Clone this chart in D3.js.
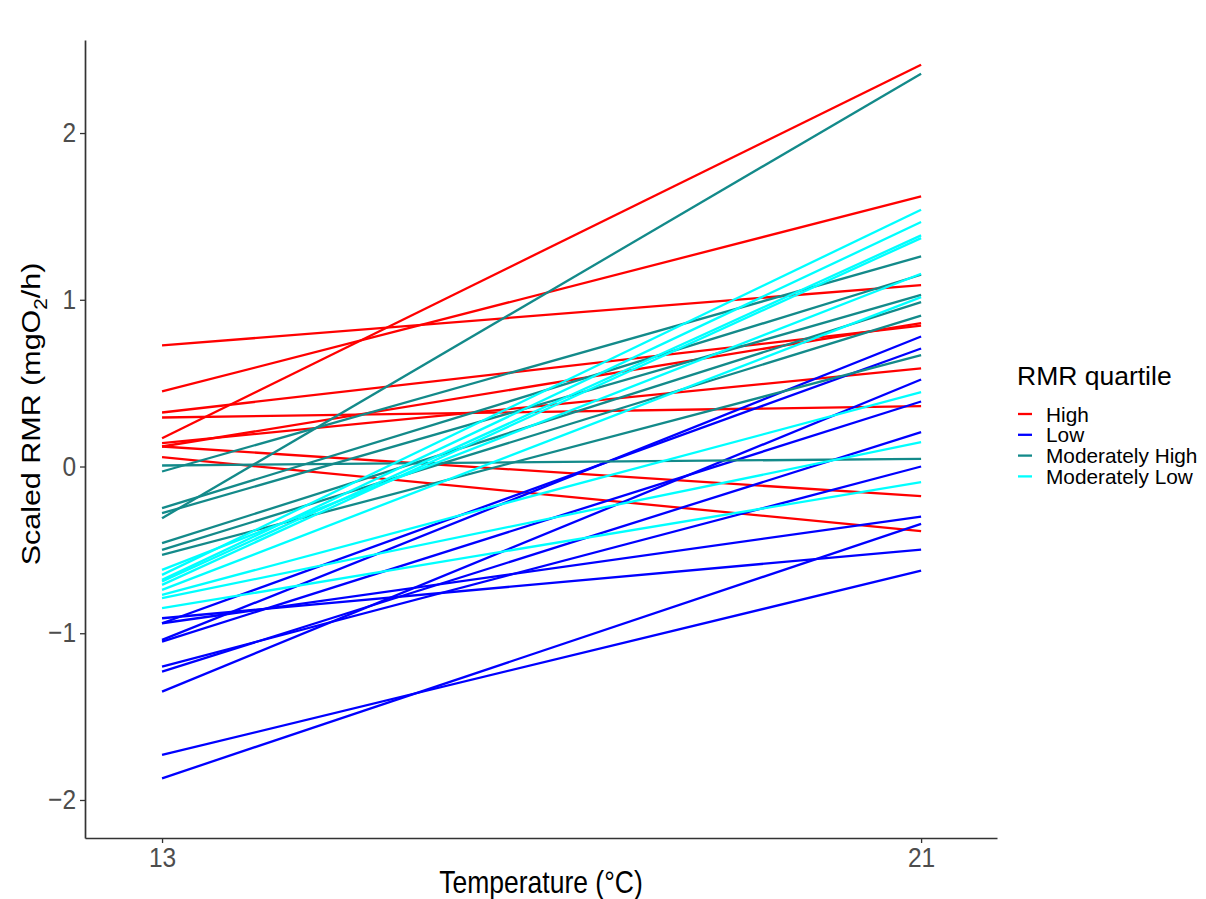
<!doctype html>
<head>
  <style>
    html, body {
      margin: 0;
      padding: 0;
      background: white;
    }
    svg text {
      font-family: "Liberation Sans", Arial, sans-serif;
    }
  </style>
  <script src="https://d3js.org/d3.v7.min.js"></script>
</head>
<body>
  <div id='chart'></div>
  <script>
    // temperatures of the two measurements
    var temps = [13, 21];

    // scaled RMR at 13 and 21 C, one entry per fish, by quartile group
    var highStart = [0.726, 0.45, 0.324, 0.294, 0.17, 0.14, 0.12, 0.12, 0.056];
    var highEnd   = [1.088, 1.62, 0.845, 0.362, 2.41, 0.588, 0.86, -0.178, -0.388];

    var lowStart = [-0.91, -0.94, -0.94, -1.04, -1.05, -1.2, -1.23, -1.35, -1.73, -1.87];
    var lowEnd   = [-0.498, -0.3, 0.708, 0.78, 0.39, 0.0, 0.206, 0.522, -0.624, -0.344];

    var modHighStart = [0.006, -0.03, -0.25, -0.28, -0.31, -0.46, -0.5, -0.53];
    var modHighEnd   = [0.046, 1.26, 1.15, 1.03, 2.356, 0.986, 0.905, 0.668];

    var modLowStart = [-0.62, -0.65, -0.68, -0.69, -0.71, -0.74, -0.77, -0.79, -0.85];
    var modLowEnd   = [1.156, 1.54, 1.466, 1.386, 1.37, 1.016, 0.446, 0.146, -0.094];

    var groups = ['High', 'Low', 'Moderately High', 'Moderately Low'];
    var colors = ['#ff0000', '#0000ff', '#138a8a', '#00ffff'];

    var yTicks = [-2, -1, 0, 1, 2];
    var xTicks = [13, 21];

    var width = 1206, height = 899;

    var lines = [];
    [[highStart, highEnd], [lowStart, lowEnd],
     [modHighStart, modHighEnd], [modLowStart, modLowEnd]].forEach(function(g, i) {
      g[0].forEach(function(v, j) {
        lines.push({group: groups[i], values: [v, g[1][j]]});
      });
    });

    var x = d3.scaleLinear().domain([12.188, 21.80]).range([85, 997]);
    var y = d3.scaleLinear().domain([-2.228, 2.558]).range([838, 40]);
    var color = d3.scaleOrdinal().domain(groups).range(colors);

    var svg = d3.select('#chart').append('svg')
        .attr('width', width)
        .attr('height', height);

    var line = d3.line()
        .x(function(d, i) { return x(temps[i]); })
        .y(function(d) { return y(d); });

    svg.append('g')
      .selectAll('path')
      .data(lines)
      .enter().append('path')
        .attr('d', function(d) { return line(d.values); })
        .attr('fill', 'none')
        .attr('stroke', function(d) { return color(d.group); })
        .attr('stroke-width', 2.3);

    var xAxis = svg.append('g')
        .attr('transform', 'translate(0,838)')
        .call(d3.axisBottom(x).tickValues(xTicks).tickSize(5).tickSizeOuter(0).tickPadding(5));
    var yAxis = svg.append('g')
        .attr('transform', 'translate(85,0)')
        .call(d3.axisLeft(y).tickValues(yTicks).tickSize(5).tickSizeOuter(0).tickPadding(4)
          .tickFormat(function(d) { return d < 0 ? '\u2212' + Math.abs(d) : d; }));

    [xAxis, yAxis].forEach(function(a) {
      a.select('.domain').attr('stroke', '#333').attr('stroke-width', 1.7);
      a.selectAll('.tick line').attr('stroke', '#333').attr('stroke-width', 1.3);
      a.selectAll('.tick text')
        .attr('fill', '#4d4d4d')
        .style('font-size', '24.5px');
    });
    // the reference text is a little taller than wide
    xAxis.selectAll('.tick text')
        .attr('y', 0)
        .attr('dy', 0)
        .attr('transform', 'translate(0,29) scale(1,1.15)');
    yAxis.selectAll('.tick text')
        .attr('dy', 0)
        .attr('transform', 'translate(0,8.5) scale(1,1.15)');

    svg.append('text')
        .attr('transform', 'translate(541,893) scale(1,1.15)')
        .attr('text-anchor', 'middle')
        .style('font-size', '26.5px')
        .text('Temperature (\u00b0C)');

    var ylab = svg.append('text')
        .attr('transform', 'translate(40,414) rotate(-90) scale(1.15,1)')
        .attr('text-anchor', 'middle')
        .style('font-size', '26.5px');
    ylab.append('tspan').text('Scaled RMR (mgO');
    ylab.append('tspan').attr('dy', 7).style('font-size', '18px').text('2');
    ylab.append('tspan').attr('dy', -7).text('/h)');

    var legend = svg.append('g').attr('transform', 'translate(1017,0)');
    legend.append('text')
        .attr('x', 0)
        .attr('y', 385)
        .style('font-size', '26.5px')
        .text('RMR quartile');

    var item = legend.selectAll('g.item')
        .data(groups)
        .enter().append('g')
        .attr('class', 'item')
        .attr('transform', function(d, i) { return 'translate(0,' + (414 + i * 20.8) + ')'; });
    item.append('line')
        .attr('x1', 1).attr('x2', 15)
        .attr('y1', 0).attr('y2', 0)
        .attr('stroke', function(d) { return color(d); })
        .attr('stroke-width', 2.3);
    item.append('text')
        .attr('x', 29)
        .attr('y', 7.5)
        .style('font-size', '20.8px')
        .text(function(d) { return d; });
  </script>
</body>
